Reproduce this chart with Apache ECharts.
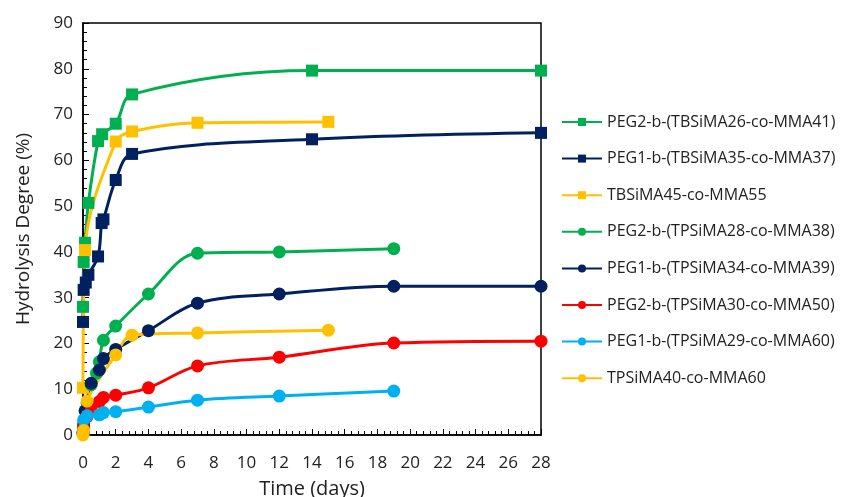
<!DOCTYPE html>
<html>
<head>
<meta charset="utf-8">
<script src="https://cdn.jsdelivr.net/npm/echarts@6/dist/echarts.min.js"></script>
<style>
  html, body { margin: 0; padding: 0; background: #fff; }
  #chart { width: 841px; height: 497px; }
</style>
</head>
<body>
<div id="chart"></div>
<script>
// series names, in legend order
var names = [
    'PEG2-b-(TBSiMA26-co-MMA41)',
    'PEG1-b-(TBSiMA35-co-MMA37)',
    'TBSiMA45-co-MMA55',
    'PEG2-b-(TPSiMA28-co-MMA38)',
    'PEG1-b-(TPSiMA34-co-MMA39)',
    'PEG2-b-(TPSiMA30-co-MMA50)',
    'PEG1-b-(TPSiMA29-co-MMA60)',
    'TPSiMA40-co-MMA60'
];

// [time (days), hydrolysis degree (%)]
var peg2Tbsi = [[0, 28], [0.04, 37.8], [0.125, 42], [0.33, 50.7], [0.92, 64.2], [1.17, 65.7], [2, 68], [3, 74.4], [14, 79.6], [28, 79.6]];
var peg1Tbsi = [[0, 24.7], [0.04, 31.7], [0.17, 33.3], [0.33, 35], [0.92, 39], [1.14, 46.3], [1.25, 47.1], [2, 55.7], [3, 61.4], [14, 64.6], [28, 66.0]];
var tbsi45 = [[0, 10.3], [0.125, 40.4], [2, 64.1], [3, 66.3], [7, 68.2], [15, 68.4]];
var peg2Tpsi = [[0, 0.5], [0.04, 2.5], [0.25, 7], [0.5, 11], [0.83, 13.5], [1, 16], [1.25, 20.7], [2, 23.8], [4, 30.8], [7, 39.7], [12, 40], [19, 40.7]];
var peg1Tpsi = [[0, 0.5], [0.04, 2], [0.125, 5.3], [0.5, 11.3], [1, 14.2], [1.25, 16.7], [2, 18.7], [4, 22.8], [7, 28.8], [12, 30.8], [19, 32.5], [28, 32.5]];
var peg2Tpsi30 = [[0, 0.3], [0.04, 1.5], [0.25, 4], [0.5, 5.5], [1, 7.3], [1.25, 8.2], [2, 8.7], [4, 10.3], [7, 15.1], [12, 17], [19, 20.1], [28, 20.5]];
var peg1Tpsi29 = [[0, 0.5], [0.04, 3.3], [0.25, 4.2], [1, 4.4], [1.25, 4.9], [2, 5.1], [4, 6.1], [7, 7.6], [12, 8.5], [19, 9.6]];
var tpsi40 = [[0, 0], [0.04, 1], [0.25, 7.4], [2, 17.5], [3, 21.8], [7, 22.3], [15, 22.9]];

var seriesData = [peg2Tbsi, peg1Tbsi, tbsi45, peg2Tpsi, peg1Tpsi, peg2Tpsi30, peg1Tpsi29, tpsi40];
var colors = ['#00B050', '#002060', '#FFC000', '#00B050', '#002060', '#FF0000', '#00B0F0', '#FFC000'];
var symbols = ['rect', 'rect', 'rect', 'circle', 'circle', 'circle', 'circle', 'circle'];

var fontName = 'Open Sans';

var chart = echarts.init(document.getElementById('chart'));

var series = [];
for (var i = 0; i < names.length; i++) {
    series.push({
        name: names[i],
        type: 'line',
        smooth: 0.35,
        data: seriesData[i],
        symbol: symbols[i],
        symbolSize: symbols[i] === 'rect' ? 12 : 13,
        showAllSymbol: true,
        itemStyle: { color: colors[i] },
        lineStyle: { color: colors[i], width: 3 }
    });
}

var option = {
    animation: false,
    textStyle: { fontFamily: fontName },
    grid: {
        left: 83,
        right: 300,
        top: 23,
        bottom: 62,
        outerBoundsMode: 'none',
        show: true,
        borderColor: '#000',
        borderWidth: 1.5
    },
    legend: {
        orient: 'vertical',
        left: 556,
        top: 109,
        itemWidth: 40,
        itemHeight: 10,
        itemGap: 20.6,
        textStyle: { fontFamily: fontName, fontSize: 16, color: '#222' },
        data: names
    },
    xAxis: {
        type: 'value',
        min: 0,
        max: 28,
        interval: 2,
        name: 'Time (days)',
        nameLocation: 'middle',
        nameGap: 44,
        nameTextStyle: { fontFamily: fontName, fontSize: 20, color: '#222' },
        axisLine: { lineStyle: { color: '#000', width: 1.5 } },
        axisTick: { inside: true, length: 6, lineStyle: { color: '#000' } },
        minorTick: { show: true, splitNumber: 5, length: 4, lineStyle: { color: '#000' } },
        splitLine: { show: false },
        axisLabel: { fontSize: 17, color: '#222', margin: 20 }
    },
    yAxis: {
        type: 'value',
        min: 0,
        max: 90,
        interval: 10,
        name: 'Hydrolysis Degree (%)',
        nameLocation: 'middle',
        nameGap: 50,
        nameTextStyle: { fontFamily: fontName, fontSize: 19, color: '#222' },
        axisLine: { lineStyle: { color: '#000', width: 1.5 } },
        axisTick: { inside: true, length: 6, lineStyle: { color: '#000' } },
        minorTick: { show: true, splitNumber: 5, length: 4, lineStyle: { color: '#000' } },
        splitLine: { show: false },
        axisLabel: { fontSize: 17, color: '#222', margin: 10 }
    },
    series: series
};

chart.setOption(option);
</script>
</body>
</html>
